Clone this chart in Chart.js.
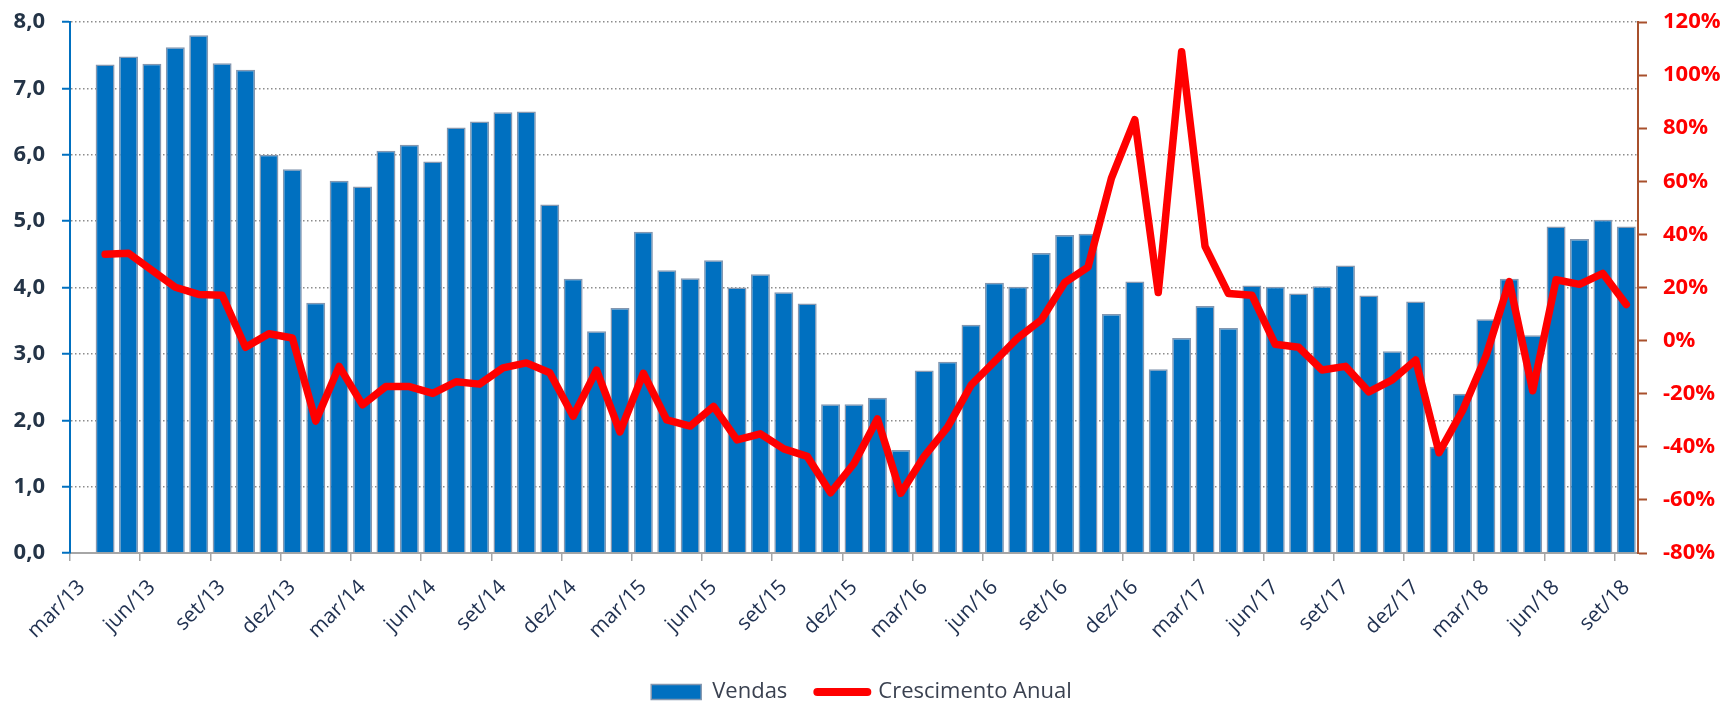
<!DOCTYPE html>
<html>
<head>
<meta charset="utf-8">
<script src="https://cdn.jsdelivr.net/npm/chart.js@4.4.1/dist/chart.umd.min.js"></script>
<style>
  html, body { margin: 0; padding: 0; background: #fff; overflow: hidden; }
</style>
</head>
<body>
<canvas id="grafico" width="1723" height="701"></canvas>
<script>
// categorias (mensal, mar/13 sem dado)
const meses = [
  'mar/13','abr/13','mai/13','jun/13','jul/13','ago/13','set/13','out/13','nov/13','dez/13','jan/14','fev/14',
  'mar/14','abr/14','mai/14','jun/14','jul/14','ago/14','set/14','out/14','nov/14','dez/14','jan/15','fev/15',
  'mar/15','abr/15','mai/15','jun/15','jul/15','ago/15','set/15','out/15','nov/15','dez/15','jan/16','fev/16',
  'mar/16','abr/16','mai/16','jun/16','jul/16','ago/16','set/16','out/16','nov/16','dez/16','jan/17','fev/17',
  'mar/17','abr/17','mai/17','jun/17','jul/17','ago/17','set/17','out/17','nov/17','dez/17','jan/18','fev/18',
  'mar/18','abr/18','mai/18','jun/18','jul/18','ago/18','set/18'
];

const vendas = [
  null, 7.36, 7.48, 7.37, 7.62, 7.80, 7.38, 7.28, 6.00, 5.78, 3.77, 5.61,
  5.52, 6.06, 6.15, 5.90, 6.41, 6.50, 6.64, 6.65, 5.25, 4.13, 3.34, 3.69,
  4.84, 4.26, 4.14, 4.41, 4.00, 4.20, 3.93, 3.76, 2.24, 2.24, 2.34, 1.55,
  2.75, 2.88, 3.44, 4.07, 4.01, 4.52, 4.79, 4.81, 3.60, 4.09, 2.77, 3.24,
  3.72, 3.39, 4.03, 4.01, 3.91, 4.02, 4.33, 3.88, 3.04, 3.79, 1.60, 2.40,
  3.52, 4.13, 3.28, 4.92, 4.73, 5.02, 4.92
];

// crescimento anual em %
const crescimento = [
  null, 32.5, 32.9, 26.5, 20.1, 17.4, 17.1, -2.5, 2.6, 1.0, -30.3, -9.7,
  -24.2, -17.3, -17.3, -19.9, -15.5, -16.4, -10.3, -8.4, -12.1, -28.5, -11.1, -34.4,
  -12.3, -29.9, -32.2, -24.8, -37.4, -35.1, -40.8, -43.6, -57.3, -46.3, -29.5, -57.5,
  -43.6, -32.6, -16.8, -7.9, 1.0, 7.8, 21.8, 27.7, 61.2, 83.2, 18.1, 108.8,
  35.5, 17.7, 17.1, -1.4, -2.5, -11.1, -9.7, -19.3, -14.8, -7.3, -42.2, -26.4,
  -5.9, 22.2, -18.9, 22.9, 21.2, 25.3, 13.6
];

const rotulosVendas = ['0,0','1,0','2,0','3,0','4,0','5,0','6,0','7,0','8,0'];
const rotulosCresc = ['-80%','-60%','-40%','-20%','0%','20%','40%','60%','80%','100%','120%'];

const AZUL = '#0070C0';
const VERMELHO = '#FF0000';
const MARROM = '#A8502C';
const TEXTO = '#243447';

// posição desejada da área do gráfico e da legenda
const TOPO = 22, BASE = 553, CENTRO_LEGENDA = 692;
const preenchimento = { top: 22, left: 0, right: 0, bottom: -12 };
let alturaX = 97;

const grafico = new Chart(document.getElementById('grafico'), {
  type: 'bar',
  data: {
    labels: meses,
    datasets: [
      {
        type: 'bar', label: 'Vendas', data: vendas, yAxisID: 'y',
        backgroundColor: AZUL, borderColor: '#8497B0', borderWidth: 1.5,
        barPercentage: 0.81, categoryPercentage: 1, order: 2
      },
      {
        type: 'line', label: 'Crescimento Anual', data: crescimento, yAxisID: 'y2',
        borderColor: VERMELHO, backgroundColor: VERMELHO, borderWidth: 7.5,
        pointRadius: 0, tension: 0, borderJoinStyle: 'round', borderCapStyle: 'round', order: 1
      }
    ]
  },
  options: {
    responsive: false,
    animation: false,
    layout: { padding: preenchimento },
    plugins: {
      tooltip: { enabled: false },
      legend: {
        position: 'bottom',
        labels: {
          usePointStyle: true,
          pointStyleWidth: 50,
          boxHeight: 15,
          padding: 30,
          color: '#3A4150',
          font: { family: 'Open Sans', size: 22 },
          sort: (a, b) => a.datasetIndex - b.datasetIndex,
          generateLabels: chart => {
            const itens = Chart.defaults.plugins.legend.labels.generateLabels(chart);
            itens.forEach(it => {
              if (it.datasetIndex === 0) {
                it.pointStyle = 'rect';
                it.fillStyle = AZUL;
                it.strokeStyle = '#8497B0';
                it.lineWidth = 1.5;
              } else {
                it.pointStyle = 'line';
                it.strokeStyle = VERMELHO;
                it.lineWidth = 8;
                it.lineCap = 'round';
              }
            });
            return itens;
          }
        }
      }
    },
    scales: {
      x: {
        offset: true,
        grid: {
          offset: true,
          drawOnChartArea: false,
          tickLength: 8,
          lineWidth: 1.5,
          color: c => (c.index % 3 === 0 ? '#A6A6A6' : 'rgba(0,0,0,0)')
        },
        border: { color: '#A6A6A6', width: 2 },
        ticks: {
          autoSkip: false,
          maxRotation: 45,
          minRotation: 45,
          padding: 14,
          color: '#1F3050',
          font: { family: 'Open Sans', size: 21 },
          callback: function (v, i) { return i % 3 === 0 ? meses[i] : ''; }
        },
        afterFit: s => { s.height = alturaX; }
      },
      y: {
        position: 'left',
        min: 0, max: 8,
        ticks: {
          stepSize: 1,
          padding: 17,
          color: TEXTO,
          font: { family: 'Open Sans', size: 22, weight: 'bold' },
          callback: (v, i) => rotulosVendas[i]
        },
        grid: {
          color: c => (c.tick && c.tick.value === 0 ? 'rgba(0,0,0,0)' : '#8C8C8C'),
          lineWidth: 1.5,
          tickColor: AZUL,
          tickLength: 8,
          tickWidth: 2
        },
        border: { color: AZUL, width: 2, dash: [1.5, 2.5] },
        afterFit: s => { s.width = 70; s.paddingTop = 10; s.paddingBottom = 10; }
      },
      y2: {
        position: 'right',
        min: -80, max: 120,
        ticks: {
          stepSize: 20,
          padding: 16,
          color: VERMELHO,
          font: { family: 'Open Sans', size: 22, weight: 'bold' },
          callback: (v, i) => rotulosCresc[i]
        },
        grid: { drawOnChartArea: false, tickColor: MARROM, tickLength: 9, tickWidth: 2 },
        border: { color: MARROM, width: 2 },
        afterFit: s => { s.width = 85; s.paddingTop = 10; s.paddingBottom = 10; }
      }
    }
  }
});

// acerta o layout: topo/base da área e centro da legenda
for (let k = 0; k < 4; k++) {
  const area = grafico.chartArea;
  const hb = grafico.legend.legendHitBoxes[0];
  const d = (hb.top + hb.height / 2) - CENTRO_LEGENDA;
  preenchimento.top += TOPO - area.top;
  preenchimento.bottom += d;
  alturaX += area.bottom - d - BASE;
  grafico.update('none');
}
</script>
</body>
</html>
